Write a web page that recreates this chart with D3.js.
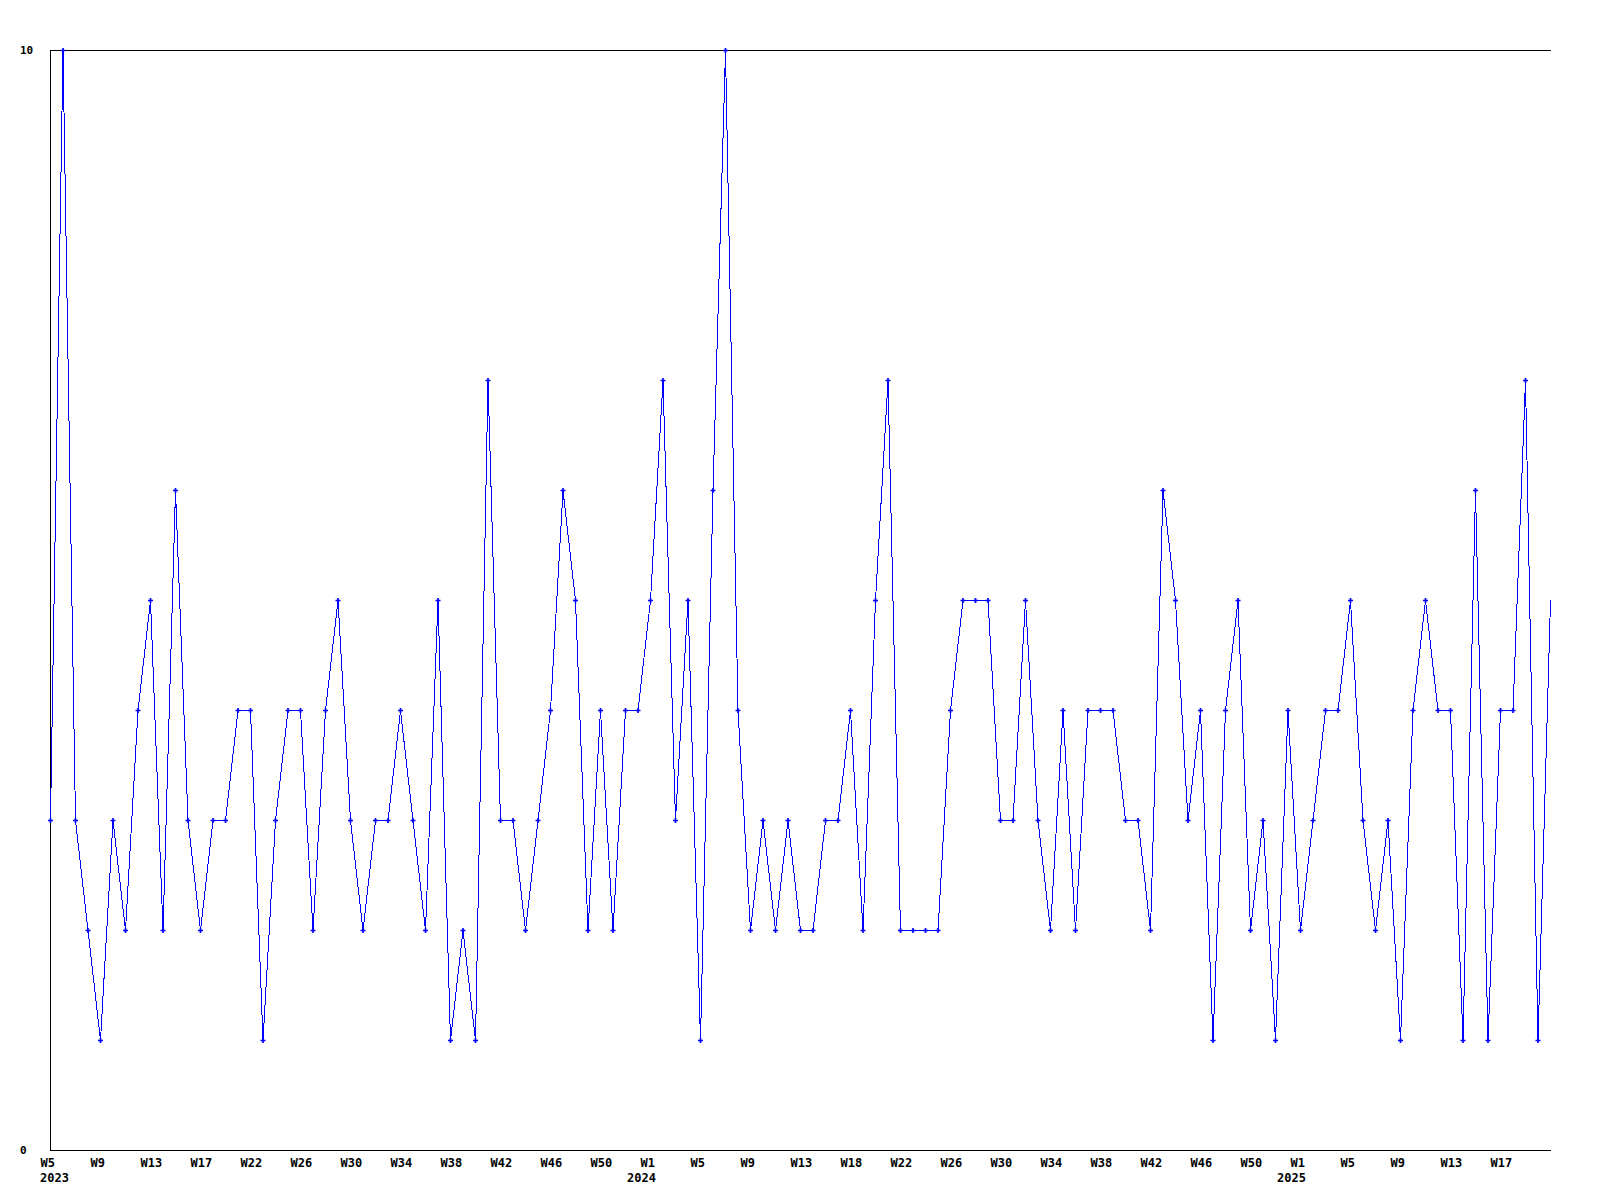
<!DOCTYPE html>
<html>
<head>
<meta charset="utf-8">
<script src="https://cdn.jsdelivr.net/npm/d3@7"></script>
<style>
  html, body { margin: 0; padding: 0; background: #ffffff; }
  svg { display: block; }
</style>
</head>
<body>
<script>
// Weekly values, W5 2023 .. ~W20 2025
const values = [
  3, 10, 3, 2, 1, 3, 2, 4, 5, 2,
  6, 3, 2, 3, 3, 4, 4, 1, 3, 4,
  4, 2, 4, 5, 3, 2, 3, 3, 4, 3,
  2, 5, 1, 2, 1, 7, 3, 3, 2, 3,
  4, 6, 5, 2, 4, 2, 4, 4, 5, 7,
  3, 5, 1, 6, 10, 4, 2, 3, 2, 3,
  2, 2, 3, 3, 4, 2, 5, 7, 2, 2,
  2, 2, 4, 5, 5, 5, 3, 3, 5, 3,
  2, 4, 2, 4, 4, 4, 3, 3, 2, 6,
  5, 3, 4, 1, 4, 5, 2, 3, 1, 4,
  2, 3, 4, 4, 5, 3, 2, 3, 1, 4,
  5, 4, 4, 1, 6, 1, 4, 4, 7, 1,
  5
];

// x tick positions (point index) and their labels
const weekTickIndex = [0, 4, 8, 12, 16, 20, 24, 28, 32, 36, 40, 44,
                       48, 52, 56, 60, 64, 68, 72, 76, 80, 84, 88, 92, 96,
                       100, 104, 108, 112, 116];
const weekTickLabels = ["W5", "W9", "W13", "W17", "W22", "W26", "W30", "W34", "W38", "W42", "W46", "W50",
                        "W1", "W5", "W9", "W13", "W18", "W22", "W26", "W30", "W34", "W38", "W42", "W46", "W50",
                        "W1", "W5", "W9", "W13", "W17"];
const yearTickIndex = [0, 48, 100];
const yearTickLabels = ["2023", "2024", "2025"];
const yTicks = [0, 10];

const W = 1600, H = 1200;
const mLeft = 50, mRight = 1550, mTop = 50, mBottom = 1150;

const svg = d3.select("body").append("svg")
  .attr("width", W).attr("height", H)
  .attr("viewBox", `0 0 ${W} ${H}`);

svg.append("rect").attr("width", W).attr("height", H).attr("fill", "#ffffff");

const x = d3.scaleLinear().domain([0, values.length - 1]).range([mLeft, mRight]);
const y = d3.scaleLinear().domain([0, 10]).range([mBottom, mTop]);

const font = "'DejaVu Sans Mono', 'Liberation Mono', monospace";

// frame lines: left, top, bottom
const frame = svg.append("g").attr("stroke", "#000").attr("stroke-width", 1)
  .attr("shape-rendering", "crispEdges");
frame.append("line").attr("x1", mLeft + 0.5).attr("x2", mLeft + 0.5).attr("y1", mTop).attr("y2", mBottom + 1);
frame.append("line").attr("x1", mLeft).attr("x2", mRight + 1).attr("y1", mTop + 0.5).attr("y2", mTop + 0.5);
frame.append("line").attr("x1", mLeft).attr("x2", mRight + 1).attr("y1", mBottom + 0.5).attr("y2", mBottom + 0.5);

// data line
const line = d3.line().x((d, i) => x(i) + 0.5).y(d => y(d) + 0.5);
svg.append("path")
  .datum(values)
  .attr("fill", "none")
  .attr("stroke", "#0000ff")
  .attr("stroke-width", 1)
  .attr("shape-rendering", "crispEdges")
  .attr("d", line);

// markers (the last point has no visible marker in the reference)
const marker = d3.symbol().type(d3.symbolCross).size(14);
svg.append("g")
  .selectAll("path")
  .data(values.slice(0, values.length - 1))
  .join("path")
  .attr("transform", (d, i) => `translate(${x(i) + 0.5},${y(d) + 0.5})`)
  .attr("d", marker)
  .attr("fill", "#0000ff");

// x axis (week labels)
const xAxis = d3.axisBottom(x)
  .tickValues(weekTickIndex)
  .tickFormat((d, i) => weekTickLabels[i])
  .tickSize(0);
const gx = svg.append("g").attr("transform", `translate(0,${mBottom})`).call(xAxis);
gx.select(".domain").remove();
gx.selectAll("text")
  .attr("text-anchor", "start")
  .attr("x", -10)
  .attr("y", 17)
  .attr("dy", null)
  .attr("fill", "#000")
  .style("font-family", font)
  .style("font-weight", "bold")
  .style("font-size", "12px");

// year labels
svg.append("g")
  .selectAll("text")
  .data(yearTickIndex)
  .join("text")
  .attr("x", d => Math.max(40, x(d) - 23))
  .attr("y", mBottom + 32)
  .attr("fill", "#000")
  .style("font-family", font)
  .style("font-weight", "bold")
  .style("font-size", "12px")
  .text((d, i) => yearTickLabels[i]);

// y axis labels
const yAxis = d3.axisLeft(y).tickValues(yTicks).tickFormat(d3.format("d")).tickSize(0);
const gy = svg.append("g").attr("transform", `translate(${mLeft},0)`).call(yAxis);
gy.select(".domain").remove();
gy.selectAll("text")
  .attr("text-anchor", "start")
  .attr("x", -30)
  .attr("dy", "0.35em")
  .attr("fill", "#000")
  .style("font-family", font)
  .style("font-weight", "bold")
  .style("font-size", "11px");
</script>
</body>
</html>
